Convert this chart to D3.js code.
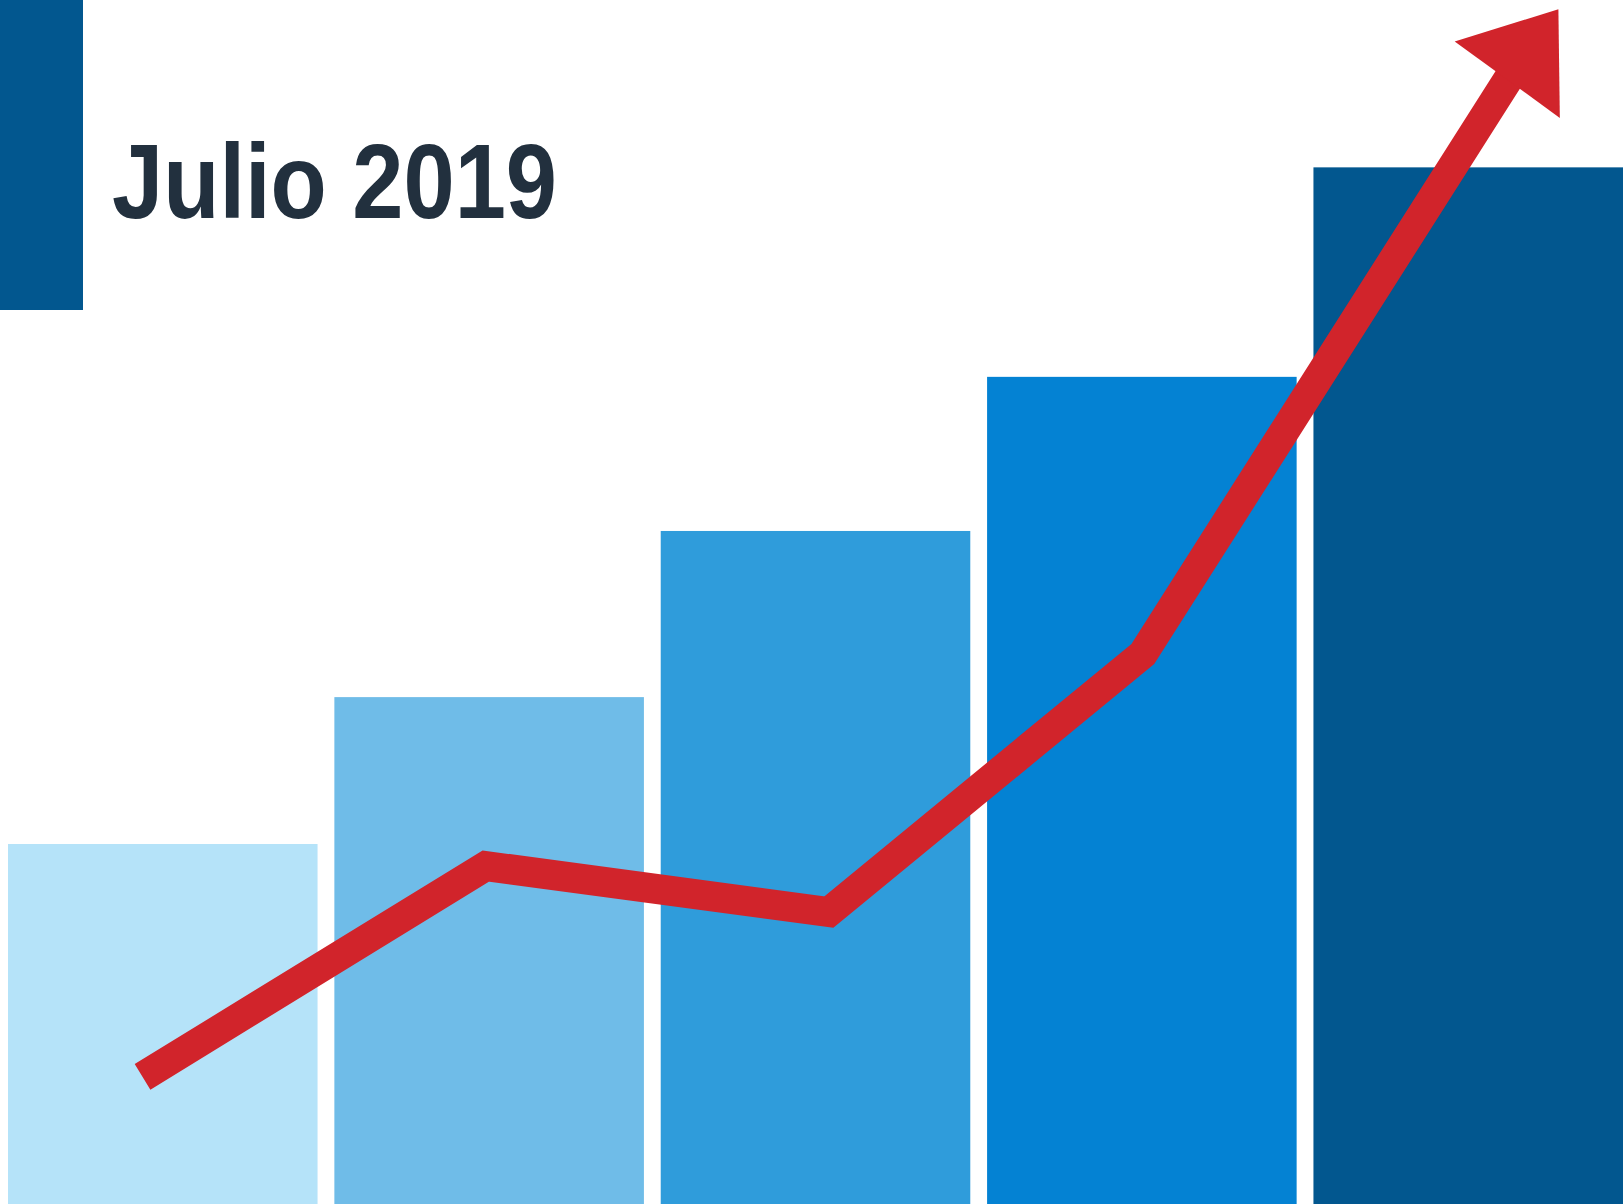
<!DOCTYPE html>
<html>
<head>
<meta charset="utf-8">
<script src="https://cdn.jsdelivr.net/npm/d3@7"></script>
<style>
  body { margin: 0; background: #fff; }
  svg { display: block; }
</style>
</head>
<body>
<svg id="chart"></svg>
<script>
// data
const categories = ["1", "2", "3", "4", "5"]
const barValues = [29.9, 42.1, 55.9, 68.7, 86.1]
const barColors = ["#b5e3f9", "#6fbce8", "#2f9cdb", "#0482d3", "#02578f"]
// trend line: x in bar-index units, y in same units as bars
const lineIndex = [-0.062, 0.99, 2.041, 3.003, 4.134]
const lineValues = [10.56, 28.07, 24.25, 45.68, 93.92]
const title = "Julio 2019"

const width = 1623, height = 1204

const svg = d3.select("#chart").attr("width", width).attr("height", height)

const x = d3.scaleBand().domain(categories).range([8, width]).paddingInner(0.0515).paddingOuter(0)
const y = d3.scaleLinear().domain([0, 100]).range([height, 0])

// index units -> bar centres
const xi = d3.scaleLinear().domain([0, categories.length - 1])
  .range([x(categories[0]) + x.bandwidth() / 2, x(categories[categories.length - 1]) + x.bandwidth() / 2])

// bars
svg.append("g").selectAll("rect").data(barValues).join("rect")
  .attr("x", (d, i) => x(categories[i]))
  .attr("y", d => y(d))
  .attr("width", x.bandwidth())
  .attr("height", d => height - y(d))
  .attr("fill", (d, i) => barColors[i])

// side block and title
svg.append("rect").attr("x", 0).attr("y", 0).attr("width", 83).attr("height", 310).attr("fill", "#02578f")

svg.append("text")
  .attr("x", 112).attr("y", 218)
  .attr("font-family", "'Liberation Sans', Arial, sans-serif")
  .attr("font-weight", "bold")
  .attr("font-size", 106)
  .attr("fill", "#22303e")
  .attr("textLength", 445)
  .attr("lengthAdjust", "spacingAndGlyphs")
  .text(title)

// arrow head
svg.append("defs").append("marker")
  .attr("id", "arrowhead")
  .attr("markerUnits", "userSpaceOnUse")
  .attr("viewBox", "0 -65 87 130")
  .attr("refX", 8).attr("refY", 0)
  .attr("markerWidth", 87).attr("markerHeight", 130)
  .attr("orient", -54)
  .style("overflow", "visible")
  .append("path").attr("d", "M0,-65L87,0L0,65Z").attr("fill", "#d1242b")

const line = d3.line()
  .x((d, i) => xi(lineIndex[i]))
  .y(d => y(d))

svg.append("path")
  .datum(lineValues)
  .attr("d", line)
  .attr("fill", "none")
  .attr("stroke", "#d1242b")
  .attr("stroke-width", 30)
  .attr("stroke-linejoin", "miter")
  .attr("stroke-linecap", "butt")
  .attr("marker-end", "url(#arrowhead)")
</script>
</body>
</html>
